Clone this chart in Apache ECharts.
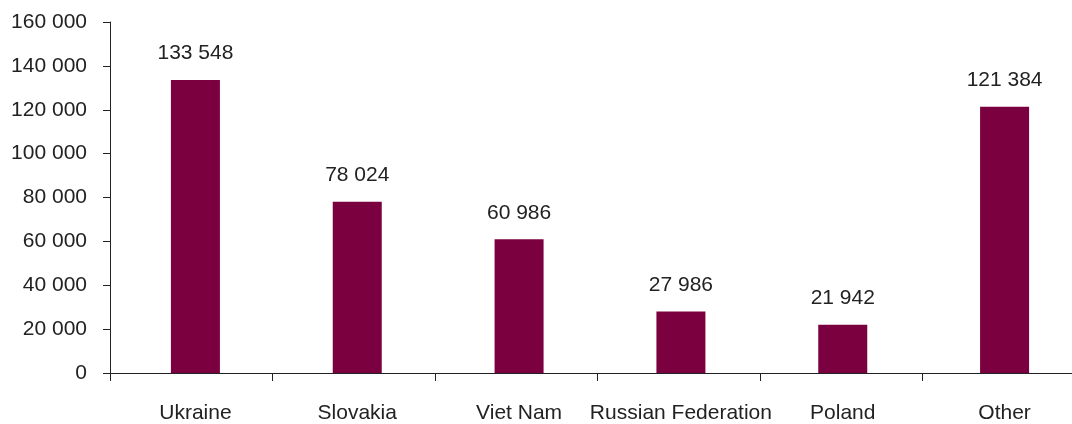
<!DOCTYPE html>
<html>
<head>
<meta charset="utf-8">
<script src="https://cdn.jsdelivr.net/npm/echarts@6/dist/echarts.min.js"></script>
<style>html,body{margin:0;padding:0;background:#fff;overflow:hidden}#c{width:1090px;height:424px}</style>
</head>
<body>
<div id="c"></div>
<script>
const categories = ["Ukraine", "Slovakia", "Viet Nam", "Russian Federation", "Poland", "Other"];
const values = [133548, 78024, 60986, 27986, 21942, 121384];
const yTicks = { min: 0, max: 160000, interval: 20000 };

function fmt(v) {
  return String(v).replace(/\B(?=(\d{3})+(?!\d))/g, " ");
}

const FS = 21;
const chart = echarts.init(document.getElementById('c'));
chart.setOption({
  animation: false,
  textStyle: { fontFamily: 'Liberation Sans, Arial, sans-serif' },
  grid: [
    { left: 110, top: 22, right: 5, bottom: 51, containLabel: false },
    { left: 114.5, top: 22, right: 4.5, bottom: 51, containLabel: false }
  ],
  xAxis: [{
    type: 'category', gridIndex: 0,
    data: categories,
    axisLine: { lineStyle: { color: '#222', width: 1 } },
    axisTick: { show: true, length: 8, lineStyle: { color: '#222' } },
    axisLabel: { show: false },
    splitLine: { show: false }
  }, {
    type: 'category', gridIndex: 1,
    data: categories,
    axisLine: { show: false },
    axisTick: { show: false },
    axisLabel: { color: '#222', fontSize: FS, margin: 30, interval: 0 },
    splitLine: { show: false }
  }],
  yAxis: [{
    type: 'value', gridIndex: 0,
    min: yTicks.min, max: yTicks.max, interval: yTicks.interval,
    axisLine: { show: true, lineStyle: { color: '#222', width: 1 } },
    axisTick: { show: true, length: 7, lineStyle: { color: '#222' } },
    axisLabel: { color: '#222', fontSize: FS, margin: 23, formatter: fmt },
    splitLine: { show: false }
  }, {
    type: 'value', gridIndex: 1,
    min: yTicks.min, max: yTicks.max, interval: yTicks.interval,
    show: false,
    splitLine: { show: false }
  }],
  series: [{
    type: 'bar',
    xAxisIndex: 1, yAxisIndex: 1,
    data: values,
    barWidth: 49,
    itemStyle: { color: '#7B003F' },
    label: { show: true, position: 'top', distance: 16, color: '#222', fontSize: FS, formatter: p => fmt(p.value) }
  }]
});
</script>
</body>
</html>
